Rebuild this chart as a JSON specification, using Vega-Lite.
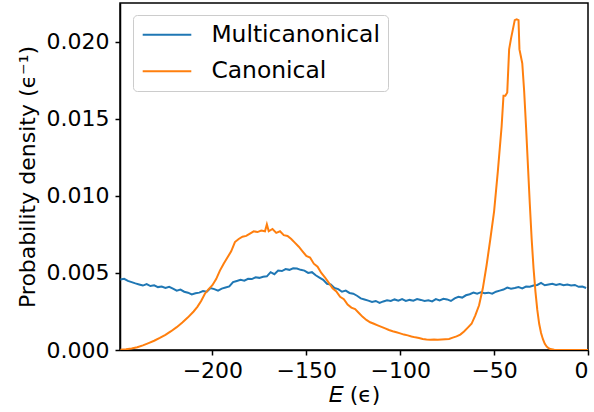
{
  "$schema": "https://vega.github.io/schema/vega-lite/v6.json",
  "width": 468,
  "height": 347,
  "autosize": "none",
  "padding": {"left": 120, "top": 3, "right": 6, "bottom": 62},
  "background": "white",
  "config": {
    "font": "DejaVu Sans",
    "view": {"stroke": "black", "strokeWidth": 1.5},
    "axis": {
      "domainColor": "black", "domainWidth": 1.5, "tickColor": "black", "tickWidth": 1.5, "tickSize": 5,
      "labelFontSize": 22, "labelColor": "black", "titleFontSize": 22, "titleFontWeight": "normal", "titleColor": "black", "grid": false
    }
  },
  "datasets": {
    "multi": [
      {"E":-249,"p":0.00458},{"E":-247,"p":0.00462},{"E":-245,"p":0.00448},{"E":-243,"p":0.00440},{"E":-241,"p":0.00432},{"E":-239,"p":0.00425},{"E":-237,"p":0.00418},{"E":-235,"p":0.00428},{"E":-233,"p":0.00415},{"E":-231,"p":0.00420},{"E":-229,"p":0.00408},{"E":-227,"p":0.00412},{"E":-225,"p":0.00402},{"E":-223,"p":0.00410},{"E":-221,"p":0.00398},{"E":-219,"p":0.00385},{"E":-217,"p":0.00392},{"E":-215,"p":0.00378},{"E":-213,"p":0.00372},{"E":-211,"p":0.00360},{"E":-209,"p":0.00368},{"E":-207,"p":0.00372},{"E":-205,"p":0.00382},{"E":-203,"p":0.00378},{"E":-201,"p":0.00402},{"E":-199,"p":0.00395},{"E":-197,"p":0.00385},{"E":-195,"p":0.00398},{"E":-193,"p":0.00405},{"E":-191,"p":0.00412},{"E":-189,"p":0.00440},{"E":-187,"p":0.00448},{"E":-185,"p":0.00455},{"E":-183,"p":0.00450},{"E":-181,"p":0.00462},{"E":-179,"p":0.00460},{"E":-177,"p":0.00472},{"E":-175,"p":0.00468},{"E":-173,"p":0.00475},{"E":-171,"p":0.00478},{"E":-169,"p":0.00505},{"E":-167,"p":0.00492},{"E":-165,"p":0.00515},{"E":-163,"p":0.00512},{"E":-161,"p":0.00525},{"E":-159,"p":0.00520},{"E":-157,"p":0.00530},{"E":-155,"p":0.00528},{"E":-153,"p":0.00520},{"E":-151,"p":0.00515},{"E":-149,"p":0.00500},{"E":-147,"p":0.00505},{"E":-145,"p":0.00485},{"E":-143,"p":0.00470},{"E":-141,"p":0.00455},{"E":-139,"p":0.00430},{"E":-137,"p":0.00425},{"E":-135,"p":0.00402},{"E":-133,"p":0.00395},{"E":-131,"p":0.00378},{"E":-129,"p":0.00385},{"E":-127,"p":0.00370},{"E":-125,"p":0.00365},{"E":-123,"p":0.00352},{"E":-121,"p":0.00335},{"E":-119,"p":0.00328},{"E":-117,"p":0.00320},{"E":-115,"p":0.00312},{"E":-113,"p":0.00318},{"E":-111,"p":0.00305},{"E":-109,"p":0.00315},{"E":-107,"p":0.00322},{"E":-105,"p":0.00318},{"E":-103,"p":0.00328},{"E":-101,"p":0.00320},{"E":-99,"p":0.00330},{"E":-97,"p":0.00318},{"E":-95,"p":0.00325},{"E":-93,"p":0.00320},{"E":-91,"p":0.00330},{"E":-89,"p":0.00325},{"E":-87,"p":0.00318},{"E":-85,"p":0.00322},{"E":-83,"p":0.00315},{"E":-81,"p":0.00330},{"E":-79,"p":0.00322},{"E":-77,"p":0.00332},{"E":-75,"p":0.00328},{"E":-73,"p":0.00318},{"E":-71,"p":0.00335},{"E":-69,"p":0.00345},{"E":-67,"p":0.00340},{"E":-65,"p":0.00355},{"E":-63,"p":0.00362},{"E":-61,"p":0.00372},{"E":-59,"p":0.00365},{"E":-57,"p":0.00375},{"E":-55,"p":0.00368},{"E":-53,"p":0.00372},{"E":-51,"p":0.00365},{"E":-49,"p":0.00378},{"E":-47,"p":0.00385},{"E":-45,"p":0.00392},{"E":-43,"p":0.00405},{"E":-41,"p":0.00398},{"E":-39,"p":0.00402},{"E":-37,"p":0.00408},{"E":-35,"p":0.00400},{"E":-33,"p":0.00412},{"E":-31,"p":0.00410},{"E":-29,"p":0.00418},{"E":-27,"p":0.00422},{"E":-25,"p":0.00435},{"E":-23,"p":0.00420},{"E":-21,"p":0.00425},{"E":-19,"p":0.00430},{"E":-17,"p":0.00422},{"E":-15,"p":0.00428},{"E":-13,"p":0.00420},{"E":-11,"p":0.00425},{"E":-9,"p":0.00418},{"E":-7,"p":0.00422},{"E":-5,"p":0.00410},{"E":-3,"p":0.00412},{"E":-1,"p":0.00402}
    ],
    "canon": [
      {"E":-249,"p":0.00002},{"E":-246,"p":0.00005},{"E":-243,"p":0.0001},{"E":-240,"p":0.00018},{"E":-237,"p":0.0003},{"E":-234,"p":0.00045},{"E":-231,"p":0.0006},{"E":-228,"p":0.00078},{"E":-225,"p":0.00098},{"E":-222,"p":0.00122},{"E":-219,"p":0.00148},{"E":-216,"p":0.00178},{"E":-213,"p":0.00212},{"E":-210,"p":0.0025},{"E":-208,"p":0.0028},{"E":-206,"p":0.00318},{"E":-204,"p":0.00365},{"E":-202,"p":0.00395},{"E":-200,"p":0.0042},{"E":-198,"p":0.0046},{"E":-196,"p":0.00515},{"E":-194,"p":0.0056},{"E":-192,"p":0.006},{"E":-190,"p":0.0064},{"E":-188,"p":0.007},{"E":-186,"p":0.0072},{"E":-184,"p":0.00735},{"E":-182,"p":0.0074},{"E":-180,"p":0.00755},{"E":-178,"p":0.0077},{"E":-176,"p":0.00765},{"E":-174,"p":0.00775},{"E":-172,"p":0.0077},{"E":-171,"p":0.00815},{"E":-170,"p":0.0077},{"E":-168,"p":0.00785},{"E":-166,"p":0.0076},{"E":-164,"p":0.0077},{"E":-162,"p":0.00745},{"E":-160,"p":0.0074},{"E":-158,"p":0.0072},{"E":-156,"p":0.00695},{"E":-154,"p":0.0067},{"E":-152,"p":0.0064},{"E":-150,"p":0.0061},{"E":-148,"p":0.006},{"E":-146,"p":0.0056},{"E":-144,"p":0.0054},{"E":-142,"p":0.005},{"E":-140,"p":0.0047},{"E":-138,"p":0.00435},{"E":-136,"p":0.004},{"E":-134,"p":0.0038},{"E":-132,"p":0.00345},{"E":-130,"p":0.0033},{"E":-128,"p":0.00295},{"E":-126,"p":0.00275},{"E":-124,"p":0.00265},{"E":-122,"p":0.0024},{"E":-120,"p":0.00215},{"E":-118,"p":0.00195},{"E":-116,"p":0.0018},{"E":-114,"p":0.0017},{"E":-112,"p":0.0016},{"E":-110,"p":0.0015},{"E":-108,"p":0.0014},{"E":-106,"p":0.0013},{"E":-104,"p":0.00122},{"E":-102,"p":0.00115},{"E":-100,"p":0.00108},{"E":-98,"p":0.001},{"E":-96,"p":0.00095},{"E":-94,"p":0.00088},{"E":-92,"p":0.00082},{"E":-90,"p":0.00078},{"E":-88,"p":0.00072},{"E":-86,"p":0.00068},{"E":-84,"p":0.00066},{"E":-82,"p":0.00068},{"E":-80,"p":0.00066},{"E":-78,"p":0.00068},{"E":-76,"p":0.0007},{"E":-74,"p":0.00072},{"E":-72,"p":0.0008},{"E":-70,"p":0.00088},{"E":-68,"p":0.001},{"E":-66,"p":0.0012},{"E":-64,"p":0.00145},{"E":-62,"p":0.0017},{"E":-60,"p":0.00225},{"E":-58,"p":0.0029},{"E":-56,"p":0.004},{"E":-54,"p":0.0055},{"E":-52,"p":0.0072},{"E":-50,"p":0.009},{"E":-48,"p":0.0116},{"E":-46,"p":0.0145},{"E":-45,"p":0.0165},{"E":-44,"p":0.0165},{"E":-43,"p":0.0167},{"E":-42,"p":0.0195},{"E":-41,"p":0.0202},{"E":-40,"p":0.0208},{"E":-39,"p":0.0214},{"E":-38,"p":0.02145},{"E":-37,"p":0.0214},{"E":-36.5,"p":0.0195},{"E":-36,"p":0.0192},{"E":-35,"p":0.0186},{"E":-34,"p":0.0168},{"E":-33,"p":0.0145},{"E":-32,"p":0.012},{"E":-31,"p":0.0095},{"E":-30,"p":0.0072},{"E":-29,"p":0.0053},{"E":-28,"p":0.0038},{"E":-27,"p":0.0026},{"E":-26,"p":0.0017},{"E":-25,"p":0.0011},{"E":-24,"p":0.0007},{"E":-23,"p":0.0004},{"E":-22,"p":0.00022},{"E":-21,"p":0.00012},{"E":-20,"p":0.00006},{"E":-18,"p":0.00002},{"E":-15,"p":0},{"E":-10,"p":0},{"E":-5,"p":0},{"E":0,"p":0}
    ]
  },
  "encoding": {
    "x": {"field": "E", "type": "quantitative", "scale": {"domain": [-249.2, 0], "nice": false, "zero": false},
      "axis": {"values": [-200, -150, -100, -50, 0], "title": "𝐸 (ϵ)", "labelPadding": 5, "titlePadding": 3}},
    "y": {"field": "p", "type": "quantitative", "scale": {"domain": [0, 0.02251], "nice": false},
      "axis": {"values": [0, 0.005, 0.01, 0.015, 0.02], "format": ".3f", "title": "Probability density (ϵ⁻¹)", "labelPadding": 6, "titlePadding": 7}}
  },
  "layer": [
    {"data": {"name": "multi"}, "mark": {"type": "line", "strokeWidth": 2, "clip": true},
      "encoding": {"color": {"datum": "Multicanonical", "type": "nominal",
        "scale": {"domain": ["Multicanonical", "Canonical"], "range": ["#1f77b4", "#ff7f0e"]},
        "legend": {"title": null, "orient": "none", "legendX": 13, "legendY": 12, "symbolType": "M-1,0H3.86", "symbolSize": 400, "symbolStrokeWidth": 2, "symbolFillColor": "transparent",
          "labelFontSize": 23.4, "labelColor": "black", "labelOffset": 47, "rowPadding": 11.6, "padding": 8,
          "strokeColor": "#cccccc", "fillColor": "white", "cornerRadius": 4, "labelLimit": 300}}}},
    {"data": {"name": "canon"}, "mark": {"type": "line", "strokeWidth": 2, "clip": true},
      "encoding": {"color": {"datum": "Canonical", "type": "nominal"}}}
  ]
}
